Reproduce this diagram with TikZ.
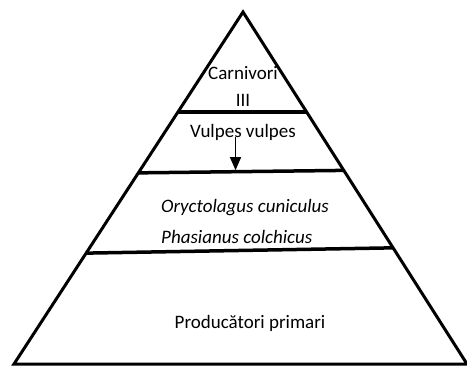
\documentclass[tikz,border=0pt]{standalone}
\usepackage{fontspec}
\setmainfont{Carlito}
\usepackage{tikz}
\usetikzlibrary{arrows.meta, calc}

\begin{document}
\begin{tikzpicture}[x=1pt, y=-1pt,
      side/.style={line width=3pt, line join=miter},
      tier/.style={line width=3.5pt},
      lbl/.style={font=\fontsize{19}{23}\selectfont, inner sep=0pt},
      arr/.style={-{Triangle[length=13pt,width=11pt]}, line width=1.2pt}
    ]
    \useasboundingbox (0,0) rectangle (467,367);

    % pyramid outline
    \coordinate (apex) at (243,12);
    \coordinate (bl) at (14,364);
    \coordinate (br) at (467,364);
    \draw[side] (bl) -- (apex) -- (br) -- cycle;

    % trophic levels
    \draw[tier] ($(apex)!0.284!(bl)$) -- ($(apex)!0.284!(br)$);
    \draw[tier] ($(apex)!0.457!(bl)$) coordinate (l2l) -- ($(apex)!0.450!(br)$) coordinate (l2r);
    \draw[tier] ($(apex)!0.685!(bl)$) -- ($(apex)!0.670!(br)$);

    \node[lbl] (carn)  at (243,73)  {Carnivori};
    \node[lbl] (three) at (243,100) {III};
    \node[lbl] (vulp)  at (243,132) {Vulpes vulpes};
    \node[lbl, anchor=west] (ory)  at (161,208) {\itshape Oryctolagus cuniculus};
    \node[lbl, anchor=west] (phas) at (161,237) {\itshape Phasianus colchicus};
    \node[lbl] (prod)  at (250,323) {Producători primari};

    \coordinate (tip) at ($(l2l)!0.473!(l2r) + (0,-1.5)$);
    \draw[arr] ([yshift=3pt]vulp.south -| tip) -- (tip);
  \end{tikzpicture}
\end{document}
